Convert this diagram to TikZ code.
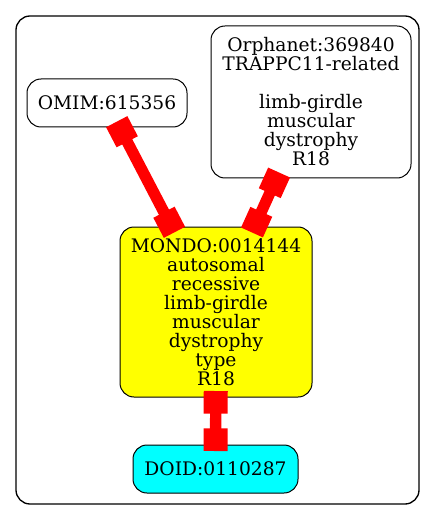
\documentclass[tikz,border=0pt]{standalone}
\usepackage{fontspec}
\setmainfont{DejaVu Serif}
\usepackage{xcolor}
\usetikzlibrary{arrows.meta}
\usetikzlibrary{positioning}

\definecolor{termyellow}{RGB}{255,255,0}
\definecolor{termcyan}{RGB}{0,255,255}
\definecolor{linkred}{RGB}{255,0,0}

\tikzset{
  term/.style={draw, rounded corners=10.5pt, align=center, inner sep=0pt, outer sep=0pt,
    line width=0.75pt, font=\fontsize{14}{14.25}\selectfont},
  link/.style={line width=8.5pt, linkred,
    {Square[length=17pt,width=18pt]}-{Square[length=17pt,width=18pt]},
    shorten <=-4.5pt, shorten >=-4.5pt}
}

\begin{document}
\begin{tikzpicture}[x=0.75pt, y=-0.75pt]
	\useasboundingbox (0,0) rectangle (436,520);
	% outer frame
	\draw[line width=1pt, rounded corners=10.5pt] (16,16) rectangle (419,504);
	% terms
	\node[term, minimum width=120pt, minimum height=36pt] (omim) at (107,103) {OMIM:615356};
	\node[term, minimum width=150pt, minimum height=114pt] (orpha) at (311,102)
		{Orphanet:369840\\TRAPPC11-related\\[14.25pt]limb-girdle\\muscular\\dystrophy\\R18};
	\node[term, fill=termyellow, minimum width=144pt, minimum height=127.5pt] (mondo) at (216,312)
		{MONDO:0014144\\autosomal\\recessive\\limb-girdle\\muscular\\dystrophy\\type\\R18};
	\node[term, fill=termcyan, minimum width=123.75pt, minimum height=36pt] (doid) at (215.5,469) {DOID:0110287};
	% links
	\draw[link] (omim) -- (mondo);
	\draw[link] (orpha) -- (mondo);
	\draw[link] (mondo) -- (doid);
\end{tikzpicture}
\end{document}
